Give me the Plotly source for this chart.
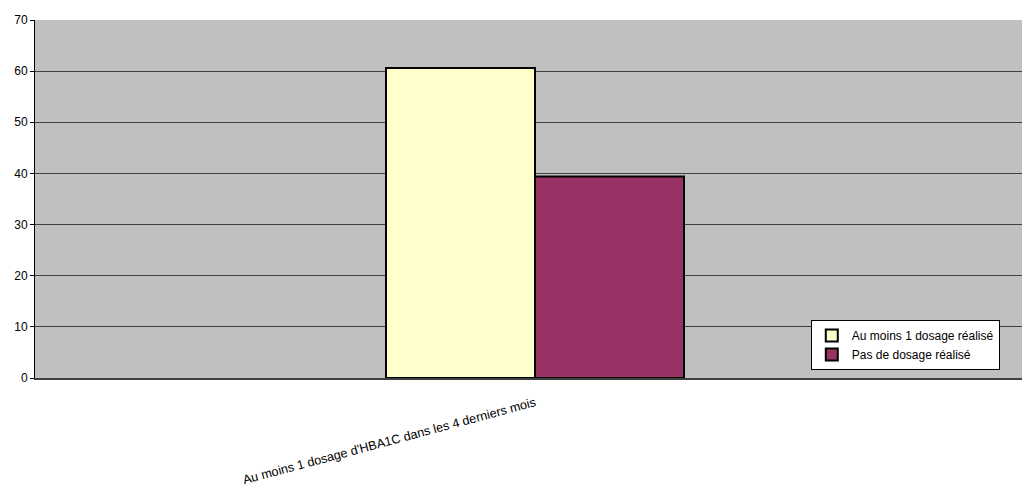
import plotly.graph_objects as go

categories = ["Au moins 1 dosage d'HBA1C dans les 4 derniers mois"]
series_names = ["Au moins 1 dosage réalisé", "Pas de dosage réalisé"]
series_values = [[60.6], [39.4]]
series_colors = ["#FFFFCC", "#993366"]
y_ticks = [0, 10, 20, 30, 40, 50, 60, 70]

fig = go.Figure()
for name, vals, col in zip(series_names, series_values, series_colors):
    fig.add_trace(go.Bar(
        x=categories, y=vals, name=name,
        marker=dict(color=col, line=dict(color="black", width=2)),
    ))

fig.update_layout(
    width=1022, height=492,
    margin=dict(l=35, r=0, t=20, b=114),
    paper_bgcolor="white",
    plot_bgcolor="#C0C0C0",
    barmode="group",
    bargap=0.702,
    bargroupgap=0,
    font=dict(family="Liberation Sans, Arial, sans-serif", size=12, color="black"),
    showlegend=True,
    legend=dict(
        x=0.786, y=0.162, xanchor="left", yanchor="top",
        bgcolor="white", bordercolor="black", borderwidth=1,
        font=dict(size=12, color="black"),
        tracegroupgap=0, itemwidth=30,
    ),
    xaxis=dict(
        range=[-0.5, 0.487],
        automargin=False,
        tickangle=-15,
        showline=True, linecolor="#404040", linewidth=2,
        ticks="", showgrid=False,
        ticklabelstandoff=11,
        tickfont=dict(size=12.6),
    ),
    yaxis=dict(
        range=[0, 70],
        automargin=False,
        tickvals=y_ticks,
        showgrid=True, gridcolor="#404040", gridwidth=1,
        showline=True, linecolor="black", linewidth=1,
        ticks="outside", ticklen=4, tickcolor="black",
        zeroline=False,
        tickfont=dict(size=12),
    ),
)

fig.write_html(
    "out.html",
    config={"displayModeBar": False},
    post_script="document.body.style.margin='0';document.body.style.overflow='hidden';",
)
